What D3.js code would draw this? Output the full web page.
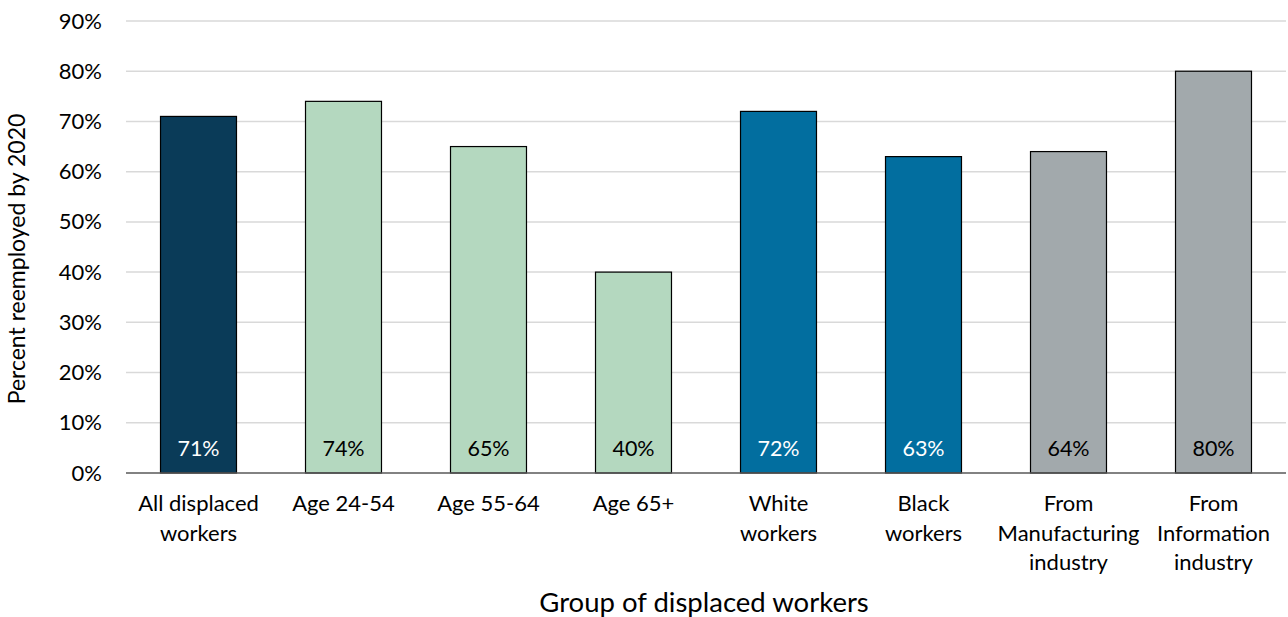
<!DOCTYPE html>
<html>
<head>
<meta charset="utf-8">
<script src="https://cdn.jsdelivr.net/npm/d3@7"></script>
<style>
  body { margin: 0; background: #fff; }
  svg text { font-family: Lato, "Open Sans", sans-serif; fill: #000; }
</style>
</head>
<body>
<svg id="chart" width="1288" height="617"></svg>
<script>
const categories = [
  ["All displaced", "workers"],
  ["Age 24-54"],
  ["Age 55-64"],
  ["Age 65+"],
  ["White", "workers"],
  ["Black", "workers"],
  ["From", "Manufacturing", "industry"],
  ["From", "Information", "industry"]
];
const values = [71, 74, 65, 40, 72, 63, 64, 80];
const barColors = ["#0a3b58", "#b4d8bf", "#b4d8bf", "#b4d8bf", "#026e9f", "#026e9f", "#a2a9ac", "#a2a9ac"];
const labelColors = ["#fff", "#000", "#000", "#000", "#fff", "#fff", "#000", "#000"];
const yTicks = [0, 10, 20, 30, 40, 50, 60, 70, 80, 90];

const margin = {top: 21, right: 2, bottom: 144, left: 126};
const W = 1288, H = 617;
const width = W - margin.left - margin.right,
      height = H - margin.top - margin.bottom;

const svg = d3.select("#chart");
const g = svg.append("g").attr("transform", `translate(${margin.left},${margin.top})`);

const keys = categories.map((d, i) => i);
const x = d3.scaleBand().domain(keys).range([0, width]).paddingInner(0.476).paddingOuter(0.238);
const y = d3.scaleLinear().domain([0, 90]).range([height, 0]);

// gridlines
g.selectAll(".grid").data(yTicks.filter(d => d > 0)).enter()
  .append("line")
  .attr("x1", 0).attr("x2", width)
  .attr("y1", d => y(d)).attr("y2", d => y(d))
  .attr("stroke", "#d9d9d9").attr("stroke-width", 1.5);

// y axis labels
const yAxis = g.append("g")
  .call(d3.axisLeft(y).tickValues(yTicks).tickFormat(d => d + "%").tickSize(0).tickPadding(24));
yAxis.select(".domain").remove();
yAxis.selectAll("text").attr("font-size", 22).attr("font-family", null);

// bars
g.selectAll(".bar").data(values).enter()
  .append("rect")
  .attr("x", (d, i) => x(i))
  .attr("y", d => y(d))
  .attr("width", x.bandwidth())
  .attr("height", d => height - y(d))
  .attr("fill", (d, i) => barColors[i])
  .attr("stroke", "#000").attr("stroke-width", 1.2);

// value labels
g.selectAll(".val").data(values).enter()
  .append("text")
  .attr("x", (d, i) => x(i) + x.bandwidth() / 2)
  .attr("y", y(0) - 17)
  .attr("text-anchor", "middle")
  .attr("font-size", 21.5)
  .style("fill", (d, i) => labelColors[i])
  .text(d => d + "%");

// x axis line
g.append("line")
  .attr("x1", 0).attr("x2", width)
  .attr("y1", height).attr("y2", height)
  .attr("stroke", "#595959").attr("stroke-width", 1.5);

// category labels
const cat = g.selectAll(".cat").data(categories).enter()
  .append("text")
  .attr("text-anchor", "middle")
  .attr("font-size", 22)
  .attr("transform", (d, i) => `translate(${x(i) + x.bandwidth() / 2},${height + 38})`);
cat.selectAll("tspan").data(d => d).enter()
  .append("tspan")
  .attr("x", 0)
  .attr("dy", (d, i) => i === 0 ? 0 : 29.5)
  .text(d => d);

// axis titles
svg.append("text")
  .attr("x", margin.left + width / 2 - 2)
  .attr("y", 612)
  .attr("text-anchor", "middle")
  .attr("font-size", 27.5)
  .text("Group of displaced workers");

svg.append("text")
  .attr("transform", `translate(25,${margin.top + height / 2 + 12}) rotate(-90)`)
  .attr("text-anchor", "middle")
  .attr("font-size", 23)
  .text("Percent reemployed by 2020");
</script>
</body>
</html>
